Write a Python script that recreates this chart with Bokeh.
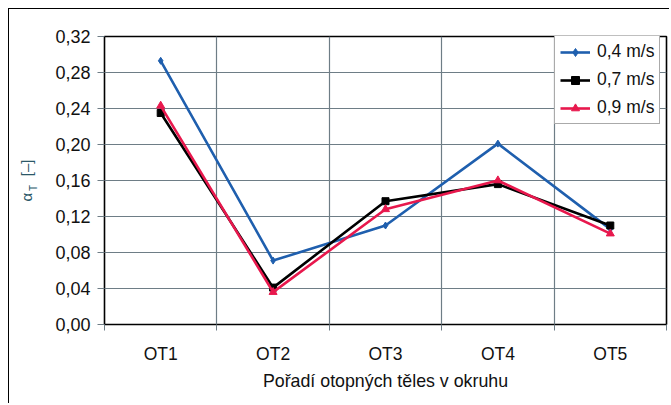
from bokeh.plotting import figure
from bokeh.models import (FixedTicker, Legend, LegendItem, Label, Range1d)
from bokeh.embed import file_html
from bokeh.resources import INLINE

categories = ["OT1", "OT2", "OT3", "OT4", "OT5"]
series_names = ["0,4 m/s", "0,7 m/s", "0,9 m/s"]
v04 = [0.293, 0.071, 0.110, 0.201, 0.106]
v07 = [0.235, 0.041, 0.137, 0.156, 0.110]
v09 = [0.243, 0.036, 0.128, 0.160, 0.101]
y_ticks = [0.00, 0.04, 0.08, 0.12, 0.16, 0.20, 0.24, 0.28, 0.32]
y_tick_labels = ["0,00", "0,04", "0,08", "0,12", "0,16", "0,20", "0,24", "0,28", "0,32"]
x_title = "Pořadí otopných těles v okruhu"
y_title = "α\u00a0\u00a0\u00a0\u00a0[–]"
y_title_sub = "T"

FONT = "Liberation Sans"
GRID = "#6e7d86"
LAB_COL = "#2b5868"

xs = list(range(1, len(categories) + 1))

p = figure(width=661, height=395, output_backend="svg", toolbar_location=None,
           x_range=Range1d(0.5, len(categories) + 0.5), y_range=Range1d(0, 0.32),
           min_border_left=95, min_border_right=4, min_border_top=27, min_border_bottom=80)
p.margin = (8, 0, 0, 8)
p.styles = {"border-left": "1.5px solid #000", "border-top": "1.5px solid #000"}
p.outline_line_color = "#000000"
p.outline_line_width = 1.6
p.background_fill_color = "#ffffff"

# x axis
p.xaxis.ticker = FixedTicker(ticks=xs, minor_ticks=[x - 0.5 for x in xs] + [xs[-1] + 0.5])
p.xaxis.major_label_overrides = {x: c for x, c in zip(xs, categories)}
p.xaxis.major_tick_out = 0
p.xaxis.major_tick_in = 0
p.xaxis.minor_tick_out = 6
p.xaxis.minor_tick_in = 0
p.xaxis.minor_tick_line_color = GRID
p.xaxis.axis_line_color = None
p.xaxis.major_label_text_font = FONT
p.xaxis.major_label_text_font_size = "17.5px"
p.xaxis.major_label_text_color = "#111111"
p.xaxis.major_label_standoff = 13
p.xaxis.axis_label = x_title
p.xaxis.axis_label_text_font = FONT
p.xaxis.axis_label_text_font_style = "normal"
p.xaxis.axis_label_text_font_size = "17.8px"
p.xaxis.axis_label_text_color = "#111111"
p.xaxis.axis_label_standoff = 4

# y axis
p.yaxis.ticker = FixedTicker(ticks=y_ticks, minor_ticks=[])
p.yaxis.major_label_overrides = {t: l for t, l in zip(y_ticks, y_tick_labels)}
p.yaxis.major_tick_out = 7
p.yaxis.major_tick_in = 0
p.yaxis.major_tick_line_color = GRID
p.yaxis.axis_line_color = None
p.yaxis.major_label_text_font = FONT
p.yaxis.major_label_text_font_size = "18px"
p.yaxis.major_label_text_color = "#111111"
p.yaxis.major_label_standoff = 7
p.yaxis.axis_label = y_title
p.yaxis.axis_label_text_font = FONT
p.yaxis.axis_label_text_font_style = "normal"
p.yaxis.axis_label_text_font_size = "15px"
p.yaxis.axis_label_text_color = LAB_COL
p.yaxis.axis_label_standoff = 17

# grids
p.xgrid.grid_line_color = None
p.xgrid.minor_grid_line_color = GRID
p.xgrid.minor_grid_line_width = 1.2
p.ygrid.grid_line_color = GRID
p.ygrid.grid_line_width = 1.2

colors = ["#1f5fae", "#000000", "#e8184d"]
series = [v04, v07, v09]
markers = ["diamond", "square", "triangle"]
msizes = [7, 7, 8]
items = []
for name, vals, col, mk, ms in zip(series_names, series, colors, markers, msizes):
    r1 = p.line(xs, vals, line_color=col, line_width=2.6)
    r2 = p.scatter(xs, vals, marker=mk, size=ms, fill_color=col, line_color=col)
    items.append(LegendItem(label=name, renderers=[r1, r2]))

legend = Legend(items=items, location=(450, 200), orientation="vertical",
                padding=5, spacing=7, margin=0, glyph_width=30, glyph_height=20,
                label_height=20, label_standoff=7,
                label_text_font=FONT, label_text_font_size="17.5px", label_text_color="#111111",
                border_line_color="#555555", border_line_width=1.2,
                background_fill_color="#ffffff", background_fill_alpha=1.0)
p.add_layout(legend, "center")

# subscript T of the y axis title (canvas coordinates, placed in a side panel so it is not clipped)
p.add_layout(Label(x=22.5, y=180.5, x_units="canvas", y_units="canvas", text=y_title_sub,
                   angle=90, angle_units="deg", text_align="left", text_baseline="alphabetic",
                   text_font=FONT, text_font_size="10px", text_color=LAB_COL), "below")

open("out.html", "w").write(file_html(p, INLINE))
